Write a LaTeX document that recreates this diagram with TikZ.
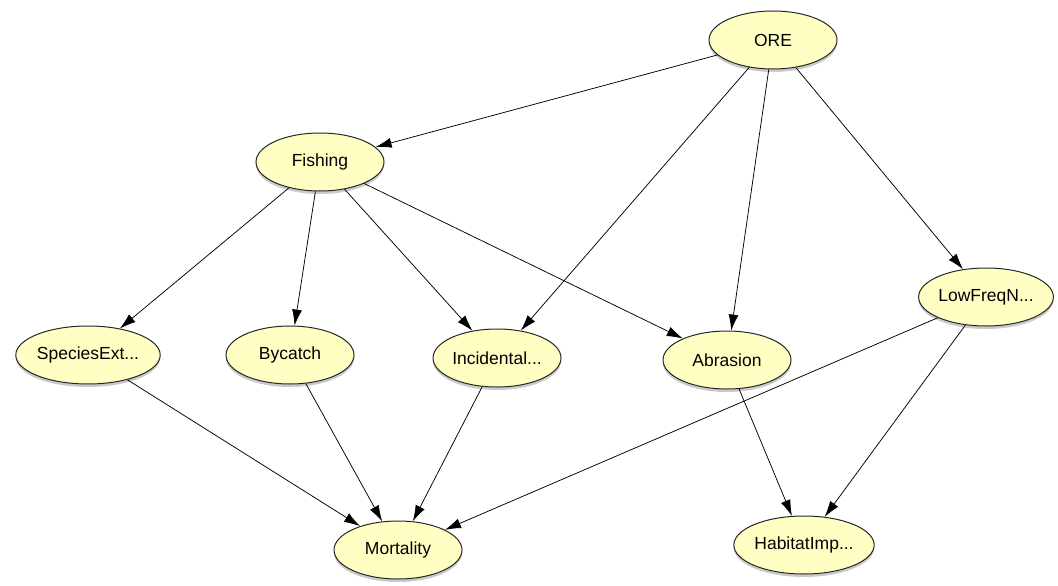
\documentclass[tikz,border=0pt]{standalone}
\usepackage{fontspec}
\setmainfont{Liberation Sans}
\usetikzlibrary{shapes.geometric,arrows.meta,shadows}
\definecolor{nodefill}{RGB}{255,255,196}
\begin{document}
\begin{tikzpicture}[x=1pt,y=-1pt,
  var/.style={ellipse,draw=black!85,line width=1pt,fill=nodefill,
    minimum width=128pt,minimum height=58pt,inner sep=0pt,
    font=\fontsize{17.5}{20}\selectfont,
    drop shadow={shadow xshift=0pt,shadow yshift=-3pt,opacity=0.35,fill=black!60}},
  link/.style={draw=black,line width=0.75pt,-{Latex[length=16pt,width=10pt]}}]
\useasboundingbox (0,0) rectangle (1058,586);
% variables
\node[var] (ore) at (773,40) {ORE};
\node[var] (fish) at (320,162) {Fishing};
\node[var] (spec) at (88,355) {SpeciesExt...};
\node[var] (byc) at (290,355) {Bycatch};
\node[var] (inc) at (497,358) {Incidental...};
\node[var] (abr) at (727,360) {Abrasion};
\node[var] (low) at (986,297) {LowFreqN...};
\node[var] (mort) at (398,550) {Mortality};
\node[var] (hab) at (804,545) {HabitatImp...};
% dependencies
\draw[link] (ore) -- (fish);
\draw[link] (ore) -- (inc);
\draw[link] (ore) -- (abr);
\draw[link] (ore) -- (low);
\draw[link] (fish) -- (spec);
\draw[link] (fish) -- (byc);
\draw[link] (fish) -- (inc);
\draw[link] (fish) -- (abr);
\draw[link] (spec) -- (mort);
\draw[link] (byc) -- (mort);
\draw[link] (inc) -- (mort);
\draw[link] (low) -- (mort);
\draw[link] (abr) -- (hab);
\draw[link] (low) -- (hab);
\end{tikzpicture}
\end{document}
